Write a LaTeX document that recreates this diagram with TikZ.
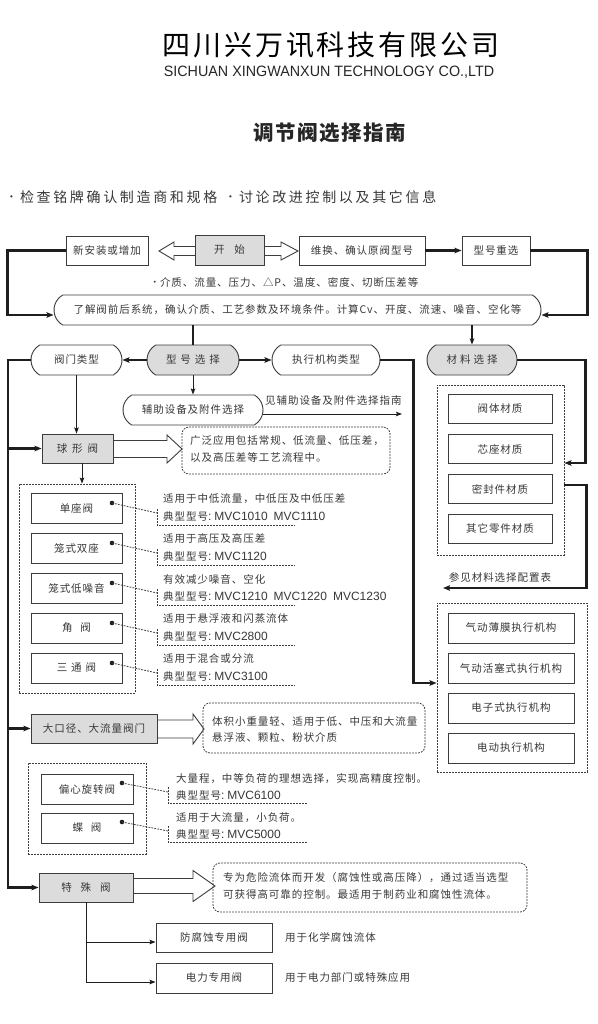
\documentclass[tikz,border=0pt]{standalone}
\usepackage{fontspec}
\usepackage{graphicx}
\usetikzlibrary{arrows.meta,shapes.misc}
\newfontfamily\cjk{Noto Sans CJK SC}
\newfontfamily\cjks{Noto Sans CJK SC}[LetterSpace=9]
\newfontfamily\cjkhead{Noto Sans CJK SC}[LetterSpace=10.5]
\newfontfamily\cjktitle{Noto Sans CJK SC}[LetterSpace=7]
\newfontfamily\cjkbul{Noto Sans CJK SC}[LetterSpace=19]
\newfontfamily\lat{Liberation Sans}
\definecolor{txt}{HTML}{383838}
\definecolor{ln}{HTML}{3C3C3C}
\definecolor{gf}{HTML}{DCDCDC}
\definecolor{con}{HTML}{1E1E1E}
\newcommand\mv[1]{{\lat\fontsize{12}{12}\selectfont #1}}
\newcommand\tx[1]{典型型号\mv{:\hspace{3pt}#1}}
\newcommand\bul[2]{\raisebox{#2}{\lat\fontsize{#1}{#1}\selectfont •}}
\newcommand\hollowarr[6]{%
  \draw[harr] ({#1},{#4-#5}) -- ({#2},{#4-#5}) -- ({#2},{#4-#6}) -- ({#3},{#4})
    -- ({#2},{#4+#6}) -- ({#2},{#4+#5}) -- ({#1},{#4+#5});}
\begin{document}
\begin{tikzpicture}[x=1pt,y=-1pt,
  every node/.style={inner sep=0pt, text=txt},
  f/.style={font=\cjks\fontsize{10.5}{12}\selectfont},
  bx/.style={f, draw=ln, line width=0.9pt, minimum height=29pt},
  gbx/.style={bx, fill=gf},
  pill/.style={bx, rounded rectangle, rounded rectangle arc length=120, minimum height=30pt},
  gpill/.style={pill, fill=gf},
  grp/.style={draw=ln, line width=0.8pt, dash pattern=on 1.8pt off 1.2pt},
  note/.style={grp, rounded corners=7pt},
  lbl/.style={f, anchor=west},
  dotn/.style={circle, fill=con, minimum size=4.6pt},
  dsh/.style={draw=ln, line width=0.8pt, dash pattern=on 1.8pt off 1.2pt},
  tip/.style={-{Stealth[length=7pt,width=5.5pt,inset=1.2pt]}},
  thk/.style={draw=con, line width=2.4pt, tip},
  med/.style={draw=con, line width=1.6pt},
  thn/.style={draw=con, line width=1pt, -{Stealth[length=6pt,width=4.5pt,inset=1pt]}},
  harr/.style={draw=ln, line width=0.9pt, fill=white, line join=miter},
]
\useasboundingbox (0,0) rectangle (597,1024);
\fill[white] (0,0) rectangle (597,1024);

% ---------- header ----------
\node[font=\cjkhead\fontsize{28}{30}\selectfont, text=black] (co) at (331,45.5) {四川兴万讯科技有限公司};
\node[font=\lat\fontsize{15}{16}\selectfont, text=black!85] (en) at (329,72.5) {\scalebox{0.955}[1]{SICHUAN XINGWANXUN TECHNOLOGY CO.,LTD}};
\node[font=\cjktitle\bfseries\fontsize{20.5}{22}\selectfont, text=black!85] (ti) at (330,132.5) {调节阀选择指南};
\node[font=\cjkbul\fontsize{14}{16}\selectfont, anchor=west] (b1) at (10,197) {\bul{8}{3pt}\hspace{7pt}检查铭牌确认制造商和规格};
\node[font=\cjkbul\fontsize{14}{16}\selectfont, anchor=west] (b2) at (229,197) {\bul{8}{3pt}\hspace{7pt}讨论改进控制以及其它信息};

% ---------- hollow arrows ----------
\hollowarr{195}{174}{159}{251}{4.5}{9}
\hollowarr{264}{281}{298}{251}{4.5}{9}
\hollowarr{113}{167}{182}{449}{8.5}{14}
\hollowarr{157}{193}{204}{729}{9}{15}
\hollowarr{133}{193}{215}{886}{7.5}{15.5}

% ---------- top row ----------
\node[bx, minimum width=82pt] (new) at (107,250.5) {新安装或增加};
\node[gbx, minimum width=69pt, minimum height=30pt] (start) at (229.5,250) {开\hspace{10pt}始};
\node[bx, minimum width=126pt] (rep) at (362,250.5) {维换、确认原阀型号};
\node[bx, minimum width=68pt] (resel) at (496,250.5) {型号重选};
\node[f] (params) at (286,282) {\bul{7}{2pt}\hspace{4pt}介质、流量、压力、△P、温度、密度、切断压差等};
\node[pill, minimum width=487pt] (info) at (297.5,310) {了解阀前后系统，确认介质、工艺参数及环境条件。计算Cv、开度、流速、噪音、空化等};

\draw[thk] (rep.east) -- (resel.west);
\draw[thk] (new.west) -- ++(-58,0) |- ([yshift=-5pt]info.west);
\draw[thk] (resel.east) -- ++(57,0) |- ([yshift=-5pt]info.east);

% ---------- second row ----------
\node[pill, minimum width=91pt] (vtype) at (76.5,360) {阀门类型};
\node[gpill, minimum width=92pt] (msel) at (193,360) {型\hspace{4pt}号\hspace{4pt}选\hspace{4pt}择};
\node[pill, minimum width=108pt] (act) at (326,360) {执行机构类型};
\node[gpill, minimum width=90pt] (mat) at (472,360) {材\hspace{3pt}料\hspace{3pt}选\hspace{3pt}择};
\node[pill, minimum width=140pt] (aux) at (193,410) {辅助设备及附件选择};
\coordinate (auxend) at (402,414);
\node[lbl] (auxtxt) at (265,401) {见辅助设备及附件选择指南};

\draw[med] (info.south -| msel.north) -- (msel.north);
\draw[med, -{Stealth[length=6pt,width=4.5pt,inset=1pt]}] (info.south -| mat.north) -- (mat.north);
\draw[thk] (msel.west) -- (vtype.east);
\draw[thk] (msel.east) -- (act.west);
\draw[thn] (msel.south) -- (aux.north);
\draw[thn] ([yshift=-4pt]aux.east) -- (auxend);

% ---------- materials ----------
\node[grp, minimum width=127pt, minimum height=170pt] (gmat) at (500.5,470) {};
\node[bx, minimum width=104pt] (m1) at (500,409) {阀体材质};
\node[bx, minimum width=104pt] (m2) at (500,449) {芯座材质};
\node[bx, minimum width=104pt] (m3) at (500,489) {密封件材质};
\node[bx, minimum width=104pt] (m4) at (500,529) {其它零件材质};
\coordinate (matend) at (443,588);
\node[f] (mattxt) at (500,577) {参见材料选择配置表};
\draw[thk] (mat.east) -- ++(68,0) |- ([yshift=7pt]gmat.east);
\draw[thk] ([yshift=-15pt]gmat.east) -- ++(22,0) |- (matend);

% ---------- actuators ----------
\node[grp, minimum width=150pt, minimum height=169pt] (gact) at (512,687.5) {};
\node[bx, minimum width=126pt, minimum height=30pt] (a1) at (511,628) {气动薄膜执行机构};
\node[bx, minimum width=126pt, minimum height=30pt] (a2) at (511,668) {气动活塞式执行机构};
\node[bx, minimum width=126pt, minimum height=30pt] (a3) at (511,708) {电子式执行机构};
\node[bx, minimum width=126pt, minimum height=30pt] (a4) at (511,748) {电动执行机构};
\draw[thk] (act.east) -- ++(33,0) |- ([yshift=4.5pt]gact.west);

% ---------- globe valves ----------
\coordinate (trunk) at (8,360);
\node[gbx, minimum width=71pt] (qiu) at (77.5,448.5) {球\hspace{5pt}形\hspace{5pt}阀};
\node[note, minimum width=208pt, minimum height=47pt] (n1) at (286,450.5) {};
\node[lbl] (n1a) at (190,441) {广泛应用包括常规、低流量、低压差，};
\node[lbl] (n1b) at (190,458) {以及高压差等工艺流程中。};
\node[grp, minimum width=116pt, minimum height=209pt] (gv) at (77,588.5) {};

\draw[thn] (vtype.south) -- (vtype.south |- qiu.north);
\draw[thn] ([xshift=4.5pt]qiu.south) -- ([xshift=4.5pt]qiu.south |- gv.north);

\foreach \i/\c/\nm/\la/\lb in {
  1/508/单座阀/适用于中低流量，中低压及中低压差/MVC1010\hspace{6pt}MVC1110,
  2/548/笼式双座/适用于高压及高压差/MVC1120,
  3/588/笼式低噪音/有效减少噪音、空化/MVC1210\hspace{6pt}MVC1220\hspace{6pt}MVC1230,
  4/628/角\hspace{8pt}阀/适用于悬浮液和闪蒸流体/MVC2800,
  5/668/三\hspace{4pt}通\hspace{4pt}阀/适用于混合或分流/MVC3100}{
  \node[bx, minimum width=91pt, minimum height=30pt] (v\i) at (76.5,\c) {\nm};
  \node[dotn] (vd\i) at (112,{\c-5}) {};
  \coordinate (vj\i) at (157,{\c+5});
  \draw[dsh] (vd\i.center) -- (vj\i);
  \draw[dsh] (157,{\c+1}) -- (157,{\c+17}) -- (295,{\c+17});
  \node[lbl] (va\i) at (163,{\c-9}) {\la};
  \node[lbl] (vb\i) at (163,{\c+8}) {\tx{\lb}};
}

% ---------- large valves ----------
\node[gbx, minimum width=126pt] (dk) at (94,728.5) {大口径、大流量阀门};
\node[note, minimum width=222pt, minimum height=50pt] (n2) at (314,728) {};
\node[lbl] (n2a) at (212,722) {体积小重量轻、适用于低、中压和大流量};
\node[lbl] (n2b) at (212,737) {悬浮液、颗粒、粉状介质};

% ---------- rotary ----------
\node[grp, minimum width=118pt, minimum height=91pt] (grot) at (87,808.5) {};
\foreach \i/\c/\nm/\la/\lb in {
  1/789/偏心旋转阀/大量程，中等负荷的理想选择，实现高精度控制。/MVC6100,
  2/828/蝶\hspace{8pt}阀/适用于大流量，小负荷。/MVC5000}{
  \node[bx, minimum width=92pt, minimum height=30pt] (r\i) at (87,\c) {\nm};
  \node[dotn] (rd\i) at (122,{\c-6}) {};
  \coordinate (rj\i) at (168,{\c+3});
  \draw[dsh] (rd\i.center) -- (rj\i);
  \draw[dsh] (168,{\c-2}) -- (168,{\c+14}) -- (307,{\c+14});
  \node[lbl] (ra\i) at (176,{\c-10}) {\la};
  \node[lbl] (rb\i) at (176,{\c+6}) {\tx{\lb}};
}

% ---------- special ----------
\node[gbx, minimum width=94pt] (sp) at (86,887.5) {特\hspace{9pt}殊\hspace{9pt}阀};
\node[note, minimum width=314pt, minimum height=49pt] (n3) at (370,887.5) {};
\node[lbl] (n3a) at (223,878) {专为危险流体而开发（腐蚀性或高压降），通过适当选型};
\node[lbl] (n3b) at (223,894) {可获得高可靠的控制。最适用于制药业和腐蚀性流体。};
\node[bx, minimum width=116pt] (fs) at (214,937.5) {防腐蚀专用阀};
\node[bx, minimum width=116pt, minimum height=30pt] (dl) at (214,978) {电力专用阀};
\node[lbl] (fst) at (285,937) {用于化学腐蚀流体};
\node[lbl] (dlt) at (285,977) {用于电力部门或特殊应用};
\draw[thn] (sp.south) |- ([yshift=-4.5pt]fs.west);
\draw[thn] (sp.south) |- ([yshift=-4pt]dl.west);

% ---------- left trunk ----------
\draw[thk] (vtype.west) -- (trunk) |- (sp.west);
\draw[thk] (qiu.west -| trunk) -- (qiu.west);
\draw[thk] (dk.west -| trunk) -- (dk.west);
\end{tikzpicture}
\end{document}
